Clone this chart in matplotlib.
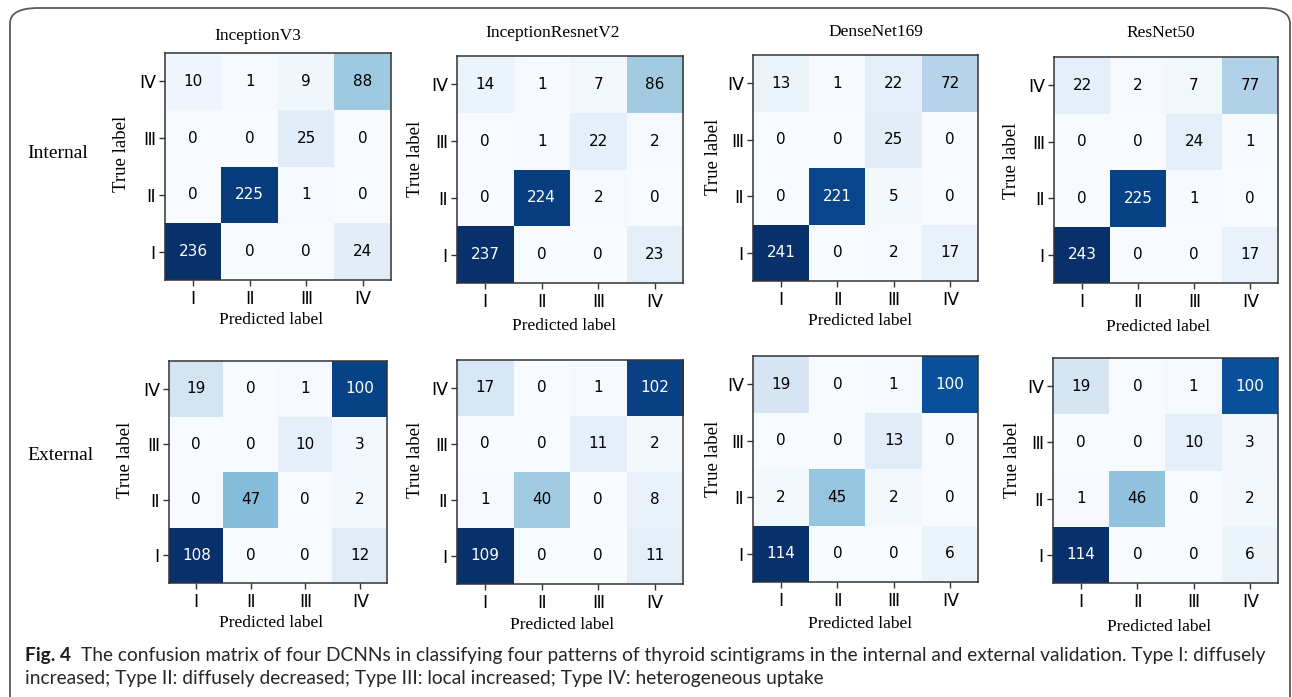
import numpy as np
import matplotlib
matplotlib.use("Agg")
import matplotlib.pyplot as plt
from matplotlib.patches import FancyBboxPatch

# ---- data -------------------------------------------------------------
models = ["InceptionV3", "InceptionResnetV2", "DenseNet169", "ResNet50"]
cohorts = ["Internal", "External"]
class_labels = ["\u2160", "\u2161", "\u2162", "\u2163"]   # I, II, III, IV

# rows = true label (I..IV), columns = predicted label (I..IV)
internal_inceptionv3 = [[236, 0, 0, 24],
                        [0, 225, 1, 0],
                        [0, 0, 25, 0],
                        [10, 1, 9, 88]]
internal_inceptionresnetv2 = [[237, 0, 0, 23],
                              [0, 224, 2, 0],
                              [0, 1, 22, 2],
                              [14, 1, 7, 86]]
internal_densenet169 = [[241, 0, 2, 17],
                        [0, 221, 5, 0],
                        [0, 0, 25, 0],
                        [13, 1, 22, 72]]
internal_resnet50 = [[243, 0, 0, 17],
                     [0, 225, 1, 0],
                     [0, 0, 24, 1],
                     [22, 2, 7, 77]]

external_inceptionv3 = [[108, 0, 0, 12],
                        [0, 47, 0, 2],
                        [0, 0, 10, 3],
                        [19, 0, 1, 100]]
external_inceptionresnetv2 = [[109, 0, 0, 11],
                              [1, 40, 0, 8],
                              [0, 0, 11, 2],
                              [17, 0, 1, 102]]
external_densenet169 = [[114, 0, 0, 6],
                        [2, 45, 2, 0],
                        [0, 0, 13, 0],
                        [19, 0, 1, 100]]
external_resnet50 = [[114, 0, 0, 6],
                     [1, 46, 0, 2],
                     [0, 0, 10, 3],
                     [19, 0, 1, 100]]

matrices = [
    [internal_inceptionv3, internal_inceptionresnetv2, internal_densenet169, internal_resnet50],
    [external_inceptionv3, external_inceptionresnetv2, external_densenet169, external_resnet50],
]

caption_head = "Fig. 4"
caption_line1 = ("The confusion matrix of four DCNNs in classifying four patterns of thyroid "
                 "scintigrams in the internal and external validation. Type I: diffusely")
caption_line2 = ("increased; Type II: diffusely decreased; Type III: local increased; "
                 "Type IV: heterogeneous uptake")

# ---- layout (pixels) --------------------------------------------------
W, H = 1292, 697
fig = plt.figure(figsize=(W / 100, H / 100), dpi=100)
fig.patch.set_facecolor("white")


def fx(x):
    return x / W


def fy(y):
    return 1 - y / H


def box(l, t, r, b):
    return [fx(l), fy(b), (r - l) / W, (b - t) / H]


axes_px = [
    [(165, 53, 391, 280), (457, 56, 683, 283), (753, 55, 978, 281), (1054, 57, 1278, 283)],
    [(169, 361, 387, 583), (457, 360, 683, 584), (753, 356, 978, 582), (1053, 358, 1278, 583)],
]
title_px = [(258, 36), (553, 33), (876, 32), (1161, 33)]
xlabel_px = [
    [(271, 320), (564, 326), (860, 321), (1158, 327)],
    [(271, 623), (562, 625), (860, 624), (1159, 627)],
]
ylabel_px = [
    [(122, 154), (416, 159), (713, 157), (1011, 161)],
    [(126, 460), (416, 460), (713, 459), (1012, 460)],
]
row_label_px = [(27, 154), (27, 455)]

serif = ["Liberation Serif", "DejaVu Serif"]
cmap = plt.get_cmap("Blues")

# outer rounded frame
frame = FancyBboxPatch((fx(10), fy(720)), fx(1290) - fx(10), fy(8) - fy(720),
                       boxstyle="round,pad=0,rounding_size=0.022",
                       transform=fig.transFigure, facecolor="none",
                       edgecolor="#5a5a5a", linewidth=1.3, clip_on=False)
fig.patches.append(frame)

for r in range(2):
    for c in range(4):
        cm = np.array(matrices[r][c])
        ax = fig.add_axes(box(*axes_px[r][c]))
        ax.imshow(cm, cmap=cmap, origin="lower", vmin=cm.min(), vmax=cm.max(),
                  interpolation="nearest", aspect="auto")
        thresh = (cm.max() + cm.min()) / 2.0
        for i in range(4):
            for j in range(4):
                v = cm[i, j]
                ax.text(j, i, f"{v}", ha="center", va="center", fontsize=11,
                        color="white" if v > thresh else "black",
                        family="DejaVu Sans")
        ax.set_xticks(range(4))
        ax.set_yticks(range(4))
        ax.set_xticklabels(class_labels, fontsize=12.5, family="DejaVu Sans")
        ax.set_yticklabels(class_labels, fontsize=12.5, family="DejaVu Sans")
        ax.tick_params(length=4, width=1, color="#333333", pad=3)
        for s in ax.spines.values():
            s.set_color("#333333")
            s.set_linewidth(1.1)

        ax.set_xlabel("Predicted label", family=serif, fontsize=12.5, va="center")
        ax.xaxis.set_label_coords(fx(xlabel_px[r][c][0]), fy(xlabel_px[r][c][1]),
                                  transform=fig.transFigure)
        ax.set_ylabel("True label", family=serif, fontsize=13.5, va="center", ha="center")
        ax.yaxis.set_label_coords(fx(ylabel_px[r][c][0]), fy(ylabel_px[r][c][1]),
                                  transform=fig.transFigure)
        if r == 0:
            fig.text(fx(title_px[c][0]), fy(title_px[c][1]), models[c], family=serif,
                     fontsize=12.5, ha="center", va="center")

for k, name in enumerate(cohorts):
    fig.text(fx(row_label_px[k][0]), fy(row_label_px[k][1]), name, family=serif,
             fontsize=14, ha="left", va="center")

# caption, sized so the first line spans the frame width
cap_font = ["Lato", "DejaVu Sans"]
renderer = fig.canvas.get_renderer()
x0, x_end = 25, 1266
base1, base2 = 661, 684
size = 12.0
head = fig.text(fx(x0), fy(base1), caption_head, family=cap_font, fontweight="bold",
                fontsize=size, color="#1c1c1c", va="baseline")
body1 = fig.text(0, fy(base1), caption_line1, family=cap_font, fontsize=size,
                 color="#262626", va="baseline")
for _ in range(3):
    head.set_fontsize(size)
    body1.set_fontsize(size)
    hw = head.get_window_extent(renderer).width
    gap = size * 0.75
    body1.set_x(fx(x0 + hw + gap))
    bw = body1.get_window_extent(renderer).width
    total = hw + gap + bw
    size = size * (x_end - x0) / total
fig.text(fx(x0), fy(base2), caption_line2, family=cap_font, fontsize=body1.get_fontsize(),
         color="#262626", va="baseline")

fig.savefig("out.png", dpi=100, facecolor="white")
